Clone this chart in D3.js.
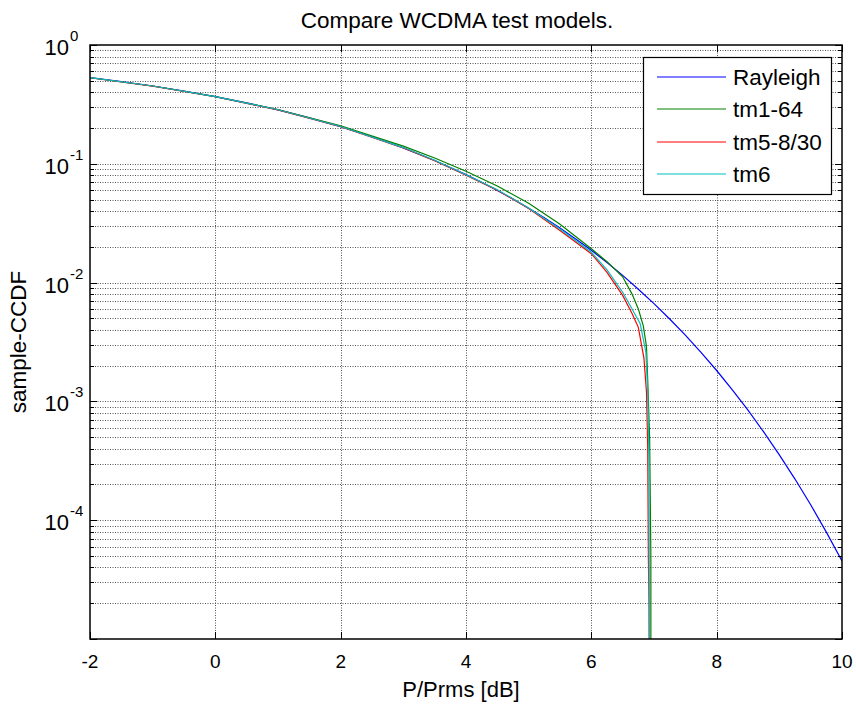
<!DOCTYPE html>
<html><head><meta charset="utf-8">
<script src="https://cdn.jsdelivr.net/npm/d3@7/dist/d3.min.js"></script>
<style>body{margin:0;background:#fff}text{font-family:"Liberation Sans",Arial,sans-serif;fill:#000}</style>
</head><body><svg id="c" width="856" height="704"></svg>
<script>
// ---- data ----
const titleText = "Compare WCDMA test models.";
const xLabel = "P/Prms [dB]";
const yLabel = "sample-CCDF";
const xTicks = [-2, 0, 2, 4, 6, 8, 10];
const yTickExps = [0, -1, -2, -3, -4];
const seriesNames = ["Rayleigh", "tm1-64", "tm5-8/30", "tm6"];
const seriesColors = ["#0000ff", "#008000", "#ff0000", "#00bfbf"];

const rayleighX = [-2, -1.5, -1, -0.5, 0, 0.5, 1, 1.5, 2, 2.5, 3, 3.5, 4, 4.25, 4.5, 4.75, 5, 5.25, 5.5, 5.75, 6, 6.25, 6.5, 6.75, 7, 7.25, 7.5, 7.75, 8, 8.25, 8.5, 8.75, 9, 9.25, 9.5, 9.75, 10];
const rayleighY = [0.532, 0.493, 0.452, 0.410, 0.368, 0.326, 0.284, 0.2435, 0.205, 0.169, 0.136, 0.1066, 0.0811, 0.0699, 0.0597, 0.0505, 0.0423, 0.0351, 0.0288, 0.0233, 0.0187, 0.01475, 0.0115, 0.0088, 0.00666, 0.00494, 0.00361, 0.00259, 0.00182, 0.00125, 0.000843, 0.000553, 0.000355, 0.000222, 0.000135, 0.0000794, 0.0000454];

const tm1X = [-2, -1, 0, 1, 2, 3, 3.5, 4, 4.5, 5, 5.5, 6, 6.25, 6.5, 6.65, 6.75, 6.83, 6.88, 6.9, 6.93, 6.95, 6.95];
const tm1Y = [0.530, 0.452, 0.368, 0.286, 0.209, 0.141, 0.112, 0.0865, 0.0650, 0.0465, 0.0310, 0.0193, 0.0150, 0.0112, 0.0080, 0.0060, 0.0043, 0.0029, 0.0015, 0.0005, 0.00005, 0.000001];

const tm5X = [-2, -1, 0, 1, 2, 3, 3.5, 4, 4.5, 5, 5.5, 6, 6.25, 6.5, 6.65, 6.75, 6.84, 6.88, 6.9, 6.91, 6.92, 6.93];
const tm5Y = [0.530, 0.451, 0.367, 0.284, 0.205, 0.136, 0.106, 0.080, 0.0600, 0.0420, 0.0275, 0.0175, 0.0122, 0.0078, 0.0055, 0.0042, 0.0023, 0.0012, 0.0004, 0.00005, 0.00002, 0.000001];

const tm6X = [-2, -1, 0, 1, 2, 3, 3.5, 4, 4.5, 5, 5.5, 6, 6.25, 6.5, 6.65, 6.78, 6.87, 6.9, 6.92, 6.93];
const tm6Y = [0.531, 0.452, 0.368, 0.285, 0.206, 0.137, 0.107, 0.081, 0.0605, 0.0425, 0.0282, 0.0180, 0.0128, 0.0083, 0.0060, 0.0045, 0.0026, 0.0012, 0.0003, 0.000001];

const seriesX = [rayleighX, tm1X, tm5X, tm6X];
const seriesY = [rayleighY, tm1Y, tm5Y, tm6Y];

// ---- layout ----
const L = 90, R = 842, T = 45, B = 639;
const svg = d3.select("#c");
const x = d3.scaleLinear().domain([-2, 10]).range([L, R]);
const y = d3.scaleLog().domain([1e-5, 1]).range([B, T]);

svg.append("rect").attr("width", 856).attr("height", 704).attr("fill", "#fff");
svg.append("defs").append("clipPath").attr("id", "clip")
  .append("rect").attr("x", L).attr("y", T).attr("width", R - L).attr("height", B - T);

// grid values
const yMajor = yTickExps.map(e => Math.pow(10, e)).concat([1e-5]);
const yMinor = [];
for (let d = -5; d < 0; d++) for (let k = 2; k <= 9; k++) yMinor.push(k * Math.pow(10, d));

const grid = svg.append("g");
grid.selectAll(".gy").data(yMajor.concat(yMinor).filter(v => v > 1e-5 && v < 1)).enter()
  .append("line").attr("x1", L).attr("x2", R)
  .attr("y1", d => Math.round(y(d)) + 0.5).attr("y2", d => Math.round(y(d)) + 0.5)
  .attr("stroke", "#555").attr("stroke-width", 1).attr("stroke-dasharray", "1,1.5");
grid.selectAll(".gx").data(xTicks.filter(v => v > -2 && v < 10)).enter()
  .append("line").attr("y1", T).attr("y2", B)
  .attr("x1", d => Math.round(x(d)) + 0.5).attr("x2", d => Math.round(x(d)) + 0.5)
  .attr("stroke", "#555").attr("stroke-width", 1).attr("stroke-dasharray", "1,1.5");

// lines
const plot = svg.append("g").attr("clip-path", "url(#clip)");
seriesNames.forEach((name, i) => {
  const pts = seriesX[i].map((xv, j) => [xv, seriesY[i][j]]);
  plot.append("path").datum(pts)
    .attr("fill", "none").attr("stroke", seriesColors[i]).attr("stroke-width", 1.2)
    .attr("d", d3.line().x(d => x(d[0])).y(d => y(Math.max(d[1], 1e-7))));
});

// axes box + ticks
const ax = svg.append("g");
xTicks.forEach(v => {
  const px = Math.round(x(v)) + 0.5;
  ax.append("line").attr("x1", px).attr("x2", px).attr("y1", B).attr("y2", B - 7).attr("stroke", "#000");
  ax.append("line").attr("x1", px).attr("x2", px).attr("y1", T).attr("y2", T + 7).attr("stroke", "#000");
});
yMajor.forEach(v => {
  const py = Math.round(y(v)) + 0.5;
  ax.append("line").attr("x1", L).attr("x2", L + 7).attr("y1", py).attr("y2", py).attr("stroke", "#000");
  ax.append("line").attr("x1", R).attr("x2", R - 7).attr("y1", py).attr("y2", py).attr("stroke", "#000");
});
yMinor.forEach(v => {
  const py = Math.round(y(v)) + 0.5;
  ax.append("line").attr("x1", L).attr("x2", L + 4).attr("y1", py).attr("y2", py).attr("stroke", "#000");
  ax.append("line").attr("x1", R).attr("x2", R - 4).attr("y1", py).attr("y2", py).attr("stroke", "#000");
});
ax.append("rect").attr("x", L).attr("y", T).attr("width", R - L).attr("height", B - T)
  .attr("fill", "none").attr("stroke", "#000").attr("stroke-width", 1.5);

// tick labels
svg.selectAll(".xl").data(xTicks).enter().append("text")
  .attr("x", d => x(d)).attr("y", 668).attr("text-anchor", "middle")
  .attr("font-size", 19).text(d => d);
yTickExps.forEach(e => {
  const py = y(Math.pow(10, e));
  svg.append("text").attr("x", 69).attr("y", py + 10).attr("text-anchor", "end").attr("font-size", 22).text("10");
  svg.append("text").attr("x", 70).attr("y", py - 4).attr("font-size", 15).text(e);
});

// title & axis labels
svg.append("text").attr("x", (L + R) / 2 - 9).attr("y", 28).attr("text-anchor", "middle").attr("font-size", 22.5).text(titleText);
svg.append("text").attr("x", (L + R) / 2 - 5).attr("y", 697).attr("text-anchor", "middle").attr("font-size", 22).text(xLabel);
svg.append("text").attr("transform", `translate(26,${(T + B) / 2}) rotate(-90)`).attr("text-anchor", "middle").attr("font-size", 22.5).text(yLabel);

// legend
const lg = svg.append("g");
lg.append("rect").attr("x", 643.5).attr("y", 57.5).attr("width", 188).attr("height", 137)
  .attr("fill", "#fff").attr("stroke", "#000").attr("stroke-width", 1.2);
const legendY = [77, 109, 142, 174];
seriesNames.forEach((name, i) => {
  lg.append("line").attr("x1", 657).attr("x2", 726).attr("y1", legendY[i]).attr("y2", legendY[i])
    .attr("stroke", seriesColors[i]).attr("stroke-width", 1.2);
  lg.append("text").attr("x", 733).attr("y", legendY[i] + 8).attr("font-size", 22.5).text(name);
});
</script></body></html>
